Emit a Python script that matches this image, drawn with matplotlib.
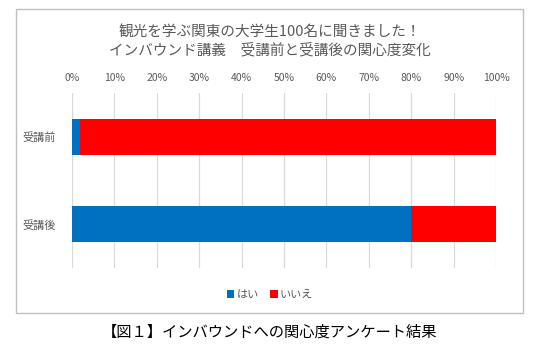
import matplotlib.pyplot as plt
from matplotlib.patches import Rectangle
from matplotlib.ticker import PercentFormatter

plt.rcParams['font.family'] = ['Noto Sans CJK JP', 'DejaVu Sans']

categories = ["受講前", "受講後"]
yes_values = [2, 80]
no_values = [98, 20]
series_names = ["はい", "いいえ"]
ticks = list(range(0, 101, 10))

title = "観光を学ぶ関東の大学生100名に聞きました！\nインバウンド講義　受講前と受講後の関心度変化"
caption = "【図１】インバウンドへの関心度アンケート結果"

W, H = 540, 363
fig = plt.figure(figsize=(W / 100, H / 100), dpi=100)

# outer chart frame
fig.patches.append(Rectangle((16 / W, 1 - 313 / H), (523 - 16) / W, (313 - 9) / H,
                             transform=fig.transFigure, fill=False,
                             edgecolor="#c0c0c0", linewidth=1.0))

ax = fig.add_axes([72 / W, 1 - 268 / H, (496 - 72) / W, (268 - 93) / H])
ypos = [1, 0]
h = 0.41
ax.barh(ypos, yes_values, height=h, color="#0070c0", label=series_names[0], zorder=3)
ax.barh(ypos, no_values, left=yes_values, height=h, color="#ff0000", label=series_names[1], zorder=3)

ax.set_xlim(0, 100)
ax.set_ylim(-0.5, 1.5)
ax.set_xticks(ticks)
ax.xaxis.set_major_formatter(PercentFormatter(decimals=0))
ax.xaxis.tick_top()
ax.tick_params(axis="x", length=0, pad=7, labelsize=7.5, labelcolor="#595959")
ax.set_yticks(ypos)
ax.set_yticklabels(categories)
ax.tick_params(axis="y", length=0, pad=12, labelsize=8, labelcolor="#595959")
ax.grid(axis="x", color="#d9d9d9", linewidth=0.9, zorder=0)
for s in ax.spines.values():
    s.set_visible(False)

fig.text(0.5, 1 - 41 / H, title, ha="center", va="center", fontsize=10.5,
         color="#595959", linespacing=1.35)

fig.legend(loc="center", bbox_to_anchor=(0.5, 1 - 295 / H), ncol=2, frameon=False,
           fontsize=8, handlelength=0.7, handleheight=0.7, handletextpad=0.2,
           columnspacing=1.0, labelcolor="#595959")

fig.text(0.5, 1 - 332 / H, caption, ha="center", va="center", fontsize=11, color="black")

fig.savefig("out.png", dpi=100)
